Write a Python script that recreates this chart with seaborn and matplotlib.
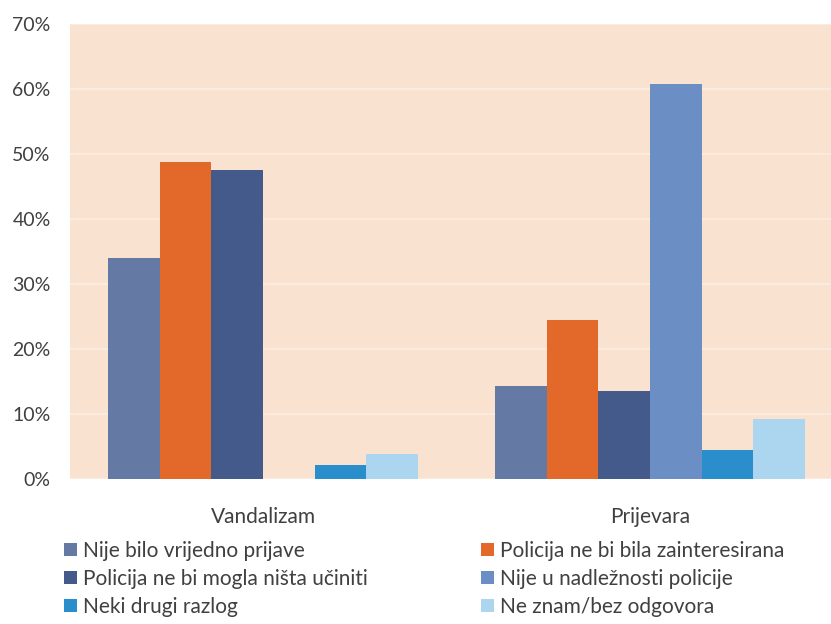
import numpy as np
import pandas as pd
import matplotlib
matplotlib.use('Agg')
import matplotlib.pyplot as plt
import seaborn as sns

# Data (percent)
categories = ['Vandalizam', 'Prijevara']
reasons = ['Nije bilo vrijedno prijave',
           'Policija ne bi bila zainteresirana',
           'Policija ne bi mogla ništa učiniti',
           'Nije u nadležnosti policije',
           'Neki drugi razlog',
           'Ne znam/bez odgovora']
nije_vrijedno = [34.0, 14.3]
ne_zainteresirana = [48.7, 24.4]
ne_bi_mogla = [47.6, 13.5]
nije_nadleznost = [0.0, 60.7]
neki_drugi = [2.1, 4.5]
ne_znam = [3.9, 9.2]

colors = ['#6479a3', '#e2692a', '#435a8a', '#6b8fc5', '#2a8dcc', '#acd6ef']

series = [nije_vrijedno, ne_zainteresirana, ne_bi_mogla, nije_nadleznost, neki_drugi, ne_znam]
rows = []
for r, vals in zip(reasons, series):
    for c, v in zip(categories, vals):
        rows.append({'kategorija': c, 'razlog': r, 'udio': v})
df = pd.DataFrame(rows)

sns.set_style('white')
plt.rcParams['font.family'] = ['Lato', 'DejaVu Sans']
text_color = '#404040'

fig = plt.figure(figsize=(8.31, 6.24), dpi=100)
ax = fig.add_axes([70 / 831, 145 / 624, 761 / 831, 455 / 624])
ax.set_facecolor('#fae2d1')

sns.barplot(data=df, x='kategorija', y='udio', hue='razlog', order=categories,
            hue_order=reasons, palette=colors, width=0.8, linewidth=0,
            saturation=1, ax=ax, legend=True)

ax.set_ylim(0, 70)
ax.set_xlim(-0.499, 1.468)
ax.set_yticks(np.arange(0, 71, 10))
ax.set_yticklabels([f'{t}%' for t in range(0, 71, 10)])
ax.yaxis.grid(True, color='#fcece1', linewidth=1.2)
ax.set_axisbelow(True)
for s in ax.spines.values():
    s.set_visible(False)
ax.tick_params(axis='y', length=0, pad=14, labelsize=14, labelcolor=text_color)
ax.tick_params(axis='x', length=0, pad=20, labelsize=15, labelcolor=text_color)
ax.set_xlabel('')
ax.set_ylabel('')

handles, labels = ax.get_legend_handles_labels()
ax.get_legend().remove()

leg_kw = dict(frameon=False, loc='upper left', fontsize=15, handlelength=0.6,
              handleheight=0.6, handletextpad=0.3, labelspacing=0.38,
              borderpad=0, borderaxespad=0, labelcolor=text_color)
idx1 = [0, 2, 4]
idx2 = [1, 3, 5]
fig.legend([handles[i] for i in idx1], [labels[i] for i in idx1],
           bbox_to_anchor=(64 / 831, 1 - 541 / 624), **leg_kw)
fig.legend([handles[i] for i in idx2], [labels[i] for i in idx2],
           bbox_to_anchor=(481 / 831, 1 - 541 / 624), **leg_kw)

fig.savefig('out.png', dpi=100)
